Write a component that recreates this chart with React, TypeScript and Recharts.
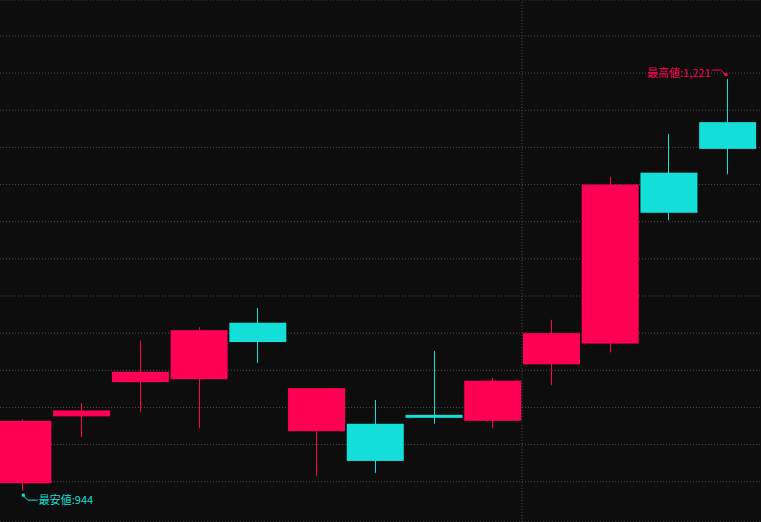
import React from 'react';
import { ComposedChart, Bar, XAxis, YAxis, CartesianGrid, ReferenceLine, ReferenceDot } from 'recharts';

// daily candles, left to right
const opens = [949, 994, 1017, 1019, 1057, 984, 989, 995, 991, 1029, 1043, 1158, 1192];
const highs = [992, 1003, 1045, 1054, 1067, 1013, 1005, 1038, 1020, 1059, 1155, 1184, 1221];
const lows = [944, 980, 997, 986, 1030, 954, 956, 989, 986, 1015, 1037, 1126, 1157];
const closes = [991, 998, 1024, 1052, 1044, 1013, 964, 993, 1018, 1050, 1150, 1131, 1174];

const gridTicks = [925, 950, 975, 1000, 1025, 1050, 1075, 1100, 1125, 1150, 1175, 1200, 1225, 1250];
const monthBreak = 8.5;

const UP = '#ff0055';
const DOWN = '#13dfd8';
const GRID = '#4e4e4e';

const data = opens.map((o, i) => ({
  i,
  open: o,
  high: highs[i],
  low: lows[i],
  close: closes[i],
}));

const maxIdx = highs.indexOf(Math.max(...highs));
const minIdx = lows.indexOf(Math.min(...lows));

const Candle = (props: any) => {
  const { x, y, width, height, payload } = props;
  if (x == null || y == null) return null;
  const top = Math.min(y, y + height);
  const bottom = Math.max(y, y + height);
  const ratio = (bottom - top) / (payload.high - payload.low);
  const up = payload.close >= payload.open;
  const color = up ? UP : DOWN;
  const bodyTop = top + (payload.high - Math.max(payload.open, payload.close)) * ratio;
  const bodyBottom = top + (payload.high - Math.min(payload.open, payload.close)) * ratio;
  const cx = x + width / 2;
  return (
    <g>
      <rect x={Math.floor(cx)} y={top} width={1} height={bottom - top} fill={color} />
      <rect x={x} y={bodyTop} width={width} height={Math.max(2, bodyBottom - bodyTop)} fill={color} />
    </g>
  );
};

const HighMark = (props: any) => {
  const { cx, cy } = props;
  return (
    <g>
      <polyline
        points={`${cx - 16},${cy - 9} ${cx - 7},${cy - 9} ${cx - 1},${cy - 4}`}
        fill="none"
        stroke={UP}
        strokeWidth={1}
      />
      <rect x={cx - 3} y={cy - 6} width={3} height={3} fill={UP} />
      <text x={cx - 17} y={cy - 2} textAnchor="end" fontSize={11} fill={UP} fontFamily="'Noto Sans CJK JP', sans-serif">
        最高値:{highs[maxIdx].toLocaleString('en-US')}
      </text>
    </g>
  );
};

const LowMark = (props: any) => {
  const { cx, cy } = props;
  return (
    <g>
      <polyline
        points={`${cx},${cy + 4.5} ${cx + 5},${cy + 9.5} ${cx + 15},${cy + 9.5}`}
        fill="none"
        stroke={DOWN}
        strokeWidth={1}
      />
      <rect x={cx - 1} y={cy + 3} width={3} height={3} fill={DOWN} />
      <text x={cx + 16} y={cy + 13.5} textAnchor="start" fontSize={11} fill={DOWN} fontFamily="'Noto Sans CJK JP', sans-serif">
        最安値:{lows[minIdx].toLocaleString('en-US')}
      </text>
    </g>
  );
};

export default function App() {
  return (
    <div style={{ position: 'absolute', left: 0, top: 0, width: 761, height: 522, background: '#0d0d0d', overflow: 'hidden' }}>
      <ComposedChart width={761} height={522} data={data} margin={{ top: 0, right: 0, bottom: 0, left: 0 }}>
        <CartesianGrid vertical={false} stroke={GRID} strokeDasharray="1 2" />
        <XAxis dataKey="i" type="number" domain={[-0.3877, 12.57]} allowDataOverflow hide />
        <YAxis type="number" domain={[922.9, 1274.2]} ticks={gridTicks} allowDataOverflow hide />
        <ReferenceLine x={monthBreak} stroke={GRID} strokeDasharray="1 2" />
        <Bar
          dataKey={(d: any) => [d.low, d.high]}
          barSize={57}
          shape={<Candle />}
          isAnimationActive={false}
        />
        <ReferenceDot x={maxIdx} y={highs[maxIdx]} r={0} shape={<HighMark />} />
        <ReferenceDot x={minIdx} y={lows[minIdx]} r={0} shape={<LowMark />} />
      </ComposedChart>
    </div>
  );
}
